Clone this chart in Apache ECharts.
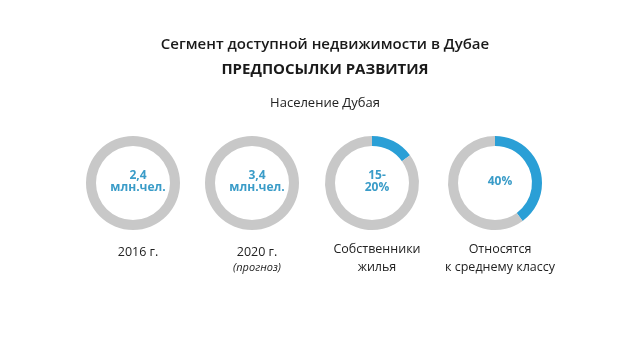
<!DOCTYPE html>
<html><head><meta charset="utf-8">
<script src="https://cdn.jsdelivr.net/npm/echarts@6/dist/echarts.min.js"></script>
<style>html,body{margin:0;padding:0;background:#fff}#c{width:640px;height:360px}</style>
</head><body><div id="c"></div>
<script>
const shares = [0, 0, 15, 40];
const centerLabels = ["2,4\nмлн.чел.", "3,4\nмлн.чел.", "15-\n20%", "40%"];
const captions = ["2016 г.", "2020 г.", "Собственники\nжилья", "Относятся\nк среднему классу"];
const notes = ["", "(прогноз)", "", ""];
const centersX = [133, 252, 372, 495];
const cy = 183;
const FONT = '"Open Sans", "Noto Sans", sans-serif';
const chart = echarts.init(document.getElementById('c'), null, {renderer: 'canvas'});
const series = shares.map((v, i) => ({
  type: 'pie', center: [centersX[i], cy], radius: [37, 47], silent: true,
  startAngle: 90, clockwise: true, animation: false, avoidLabelOverlap: false,
  label: {show: false}, labelLine: {show: false},
  data: [
    {value: v, itemStyle: {color: '#2a9fd6'}},
    {value: 100 - v, itemStyle: {color: '#c8c8c8'}}
  ]
}));
const titles = [
  {text: 'Сегмент доступной недвижимости в Дубае', left: 320, top: 32, textAlign: 'center',
   textStyle: {fontFamily: FONT, fontSize: 15, fontWeight: 600, color: '#1a1a1a'}},
  {text: 'ПРЕДПОСЫЛКИ РАЗВИТИЯ', left: 320, top: 57, textAlign: 'center',
   textStyle: {fontFamily: FONT, fontSize: 15, fontWeight: 'bold', color: '#1a1a1a'}},
  {text: 'Население Дубая', left: 320, top: 92, textAlign: 'center',
   textStyle: {fontFamily: FONT, fontSize: 13, fontWeight: 'normal', color: '#222'}}
];
centerLabels.forEach((t, i) => {
  const lines = t.split('\n').length;
  const lh = 12;
  titles.push({text: t, left: centersX[i], top: cy - lines * lh / 2 - 6, textAlign: 'center',
    textStyle: {fontFamily: FONT, fontSize: 12, fontWeight: 'bold', color: '#3a9cc8', lineHeight: lh}});
});
captions.forEach((t, i) => {
  const lines = t.split('\n').length;
  titles.push({text: t, left: centersX[i], top: lines > 1 ? 235 : 238, textAlign: 'center',
    textStyle: {fontFamily: FONT, fontSize: 12.5, fontWeight: 'normal', color: '#222', lineHeight: 18}});
  if (notes[i]) {
    titles.push({text: notes[i], left: centersX[i], top: 257, textAlign: 'center',
      textStyle: {fontFamily: FONT, fontSize: 11, fontStyle: 'italic', fontWeight: 'normal', color: '#222'}});
  }
});
chart.setOption({backgroundColor: '#fff', animation: false, title: titles, series: series});
</script></body></html>
